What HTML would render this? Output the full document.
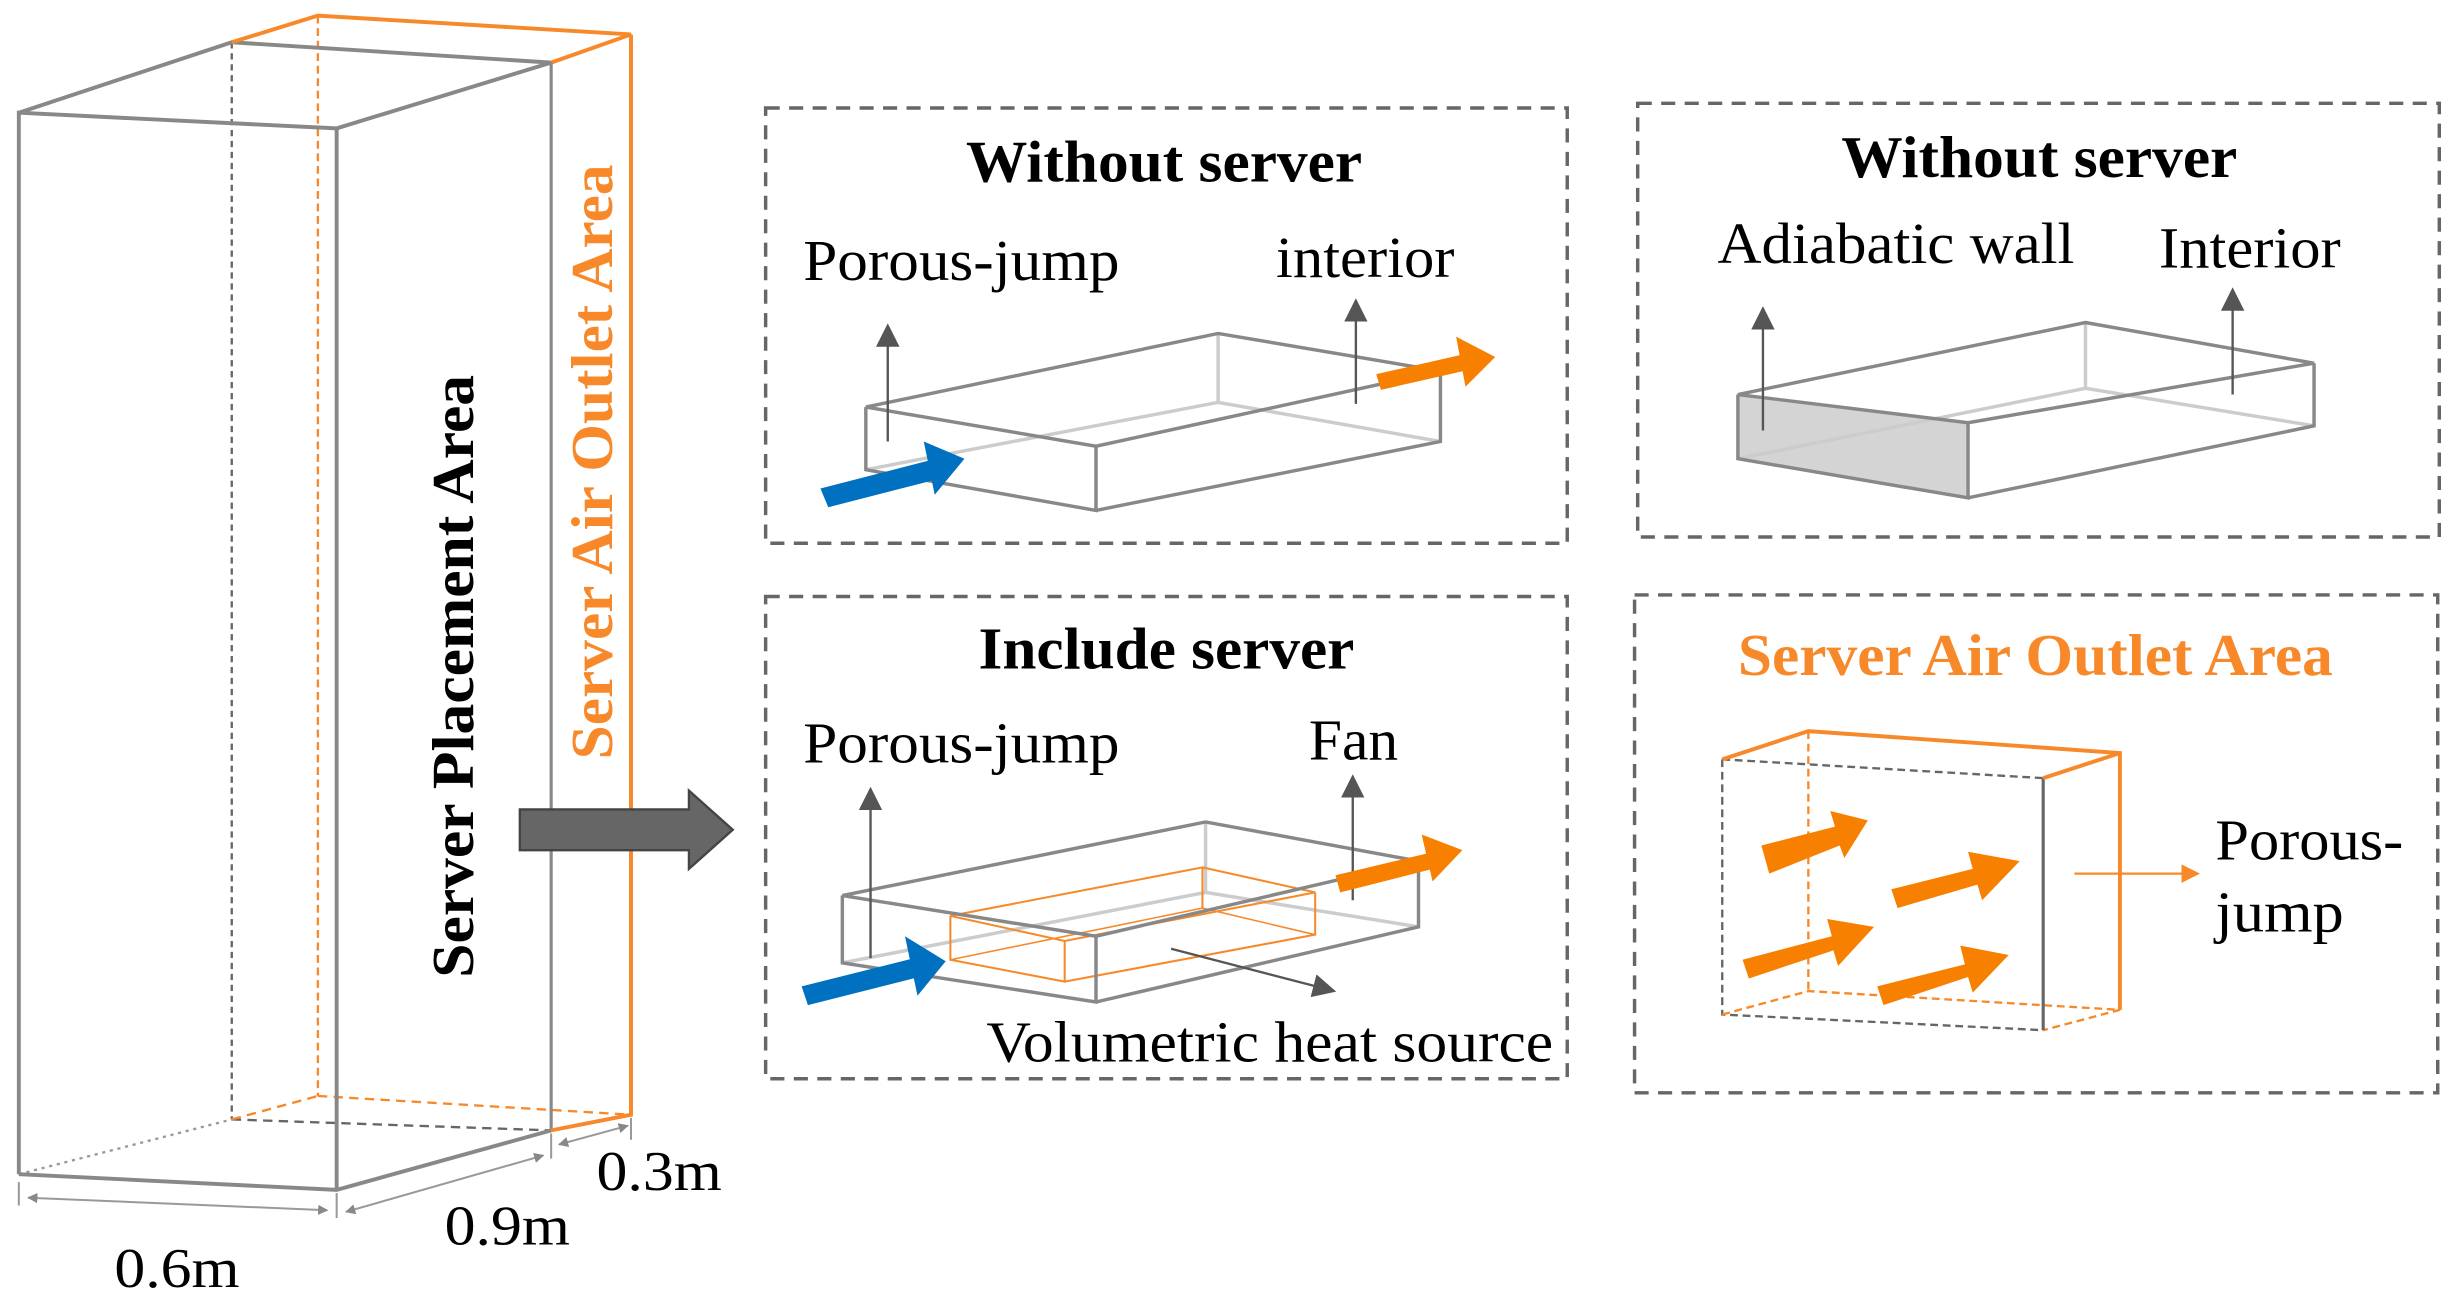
<!DOCTYPE html>
<html><head><meta charset="utf-8"><style>
html,body{margin:0;padding:0;background:#fff;}
svg{display:block;}
text{font-family:"Liberation Serif",serif;}
</style></head><body>
<svg width="2455" height="1312" viewBox="0 0 1568 838" xmlns="http://www.w3.org/2000/svg">
<defs>
<marker id="ga" viewBox="0 0 10 10" refX="9" refY="5" markerWidth="5" markerHeight="5" orient="auto-start-reverse"><path d="M0,0 L10,5 L0,10 z" fill="#888"/></marker>
<marker id="da" viewBox="0 0 10 10" refX="9" refY="5" markerWidth="10" markerHeight="10" orient="auto"><path d="M0,0 L10,5 L0,10 z" fill="#555"/></marker>
<marker id="oa" viewBox="0 0 10 10" refX="9" refY="5" markerWidth="8" markerHeight="8" orient="auto"><path d="M0,0 L10,5 L0,10 z" fill="#f7892a"/></marker>
</defs>
<g fill="none" stroke-width="2.5">
<line x1="148" y1="27" x2="148" y2="715" stroke="#666" stroke-dasharray="4,3" stroke-width="1.5"/>
<line x1="203" y1="10" x2="203" y2="700" stroke="#f7892a" stroke-dasharray="5,3" stroke-width="1.5"/>
<line x1="12" y1="750" x2="148" y2="715" stroke="#999" stroke-dasharray="2,3" stroke-width="1.5"/>
<line x1="148" y1="715" x2="352" y2="722" stroke="#666" stroke-dasharray="6,4" stroke-width="1.5"/>
<line x1="148" y1="715" x2="203" y2="700" stroke="#f7892a" stroke-dasharray="6,4" stroke-width="1.5"/>
<line x1="203" y1="700" x2="403" y2="712" stroke="#f7892a" stroke-dasharray="6,4" stroke-width="1.5"/>
<polyline points="12,72 148,27 352,40" stroke="#888"/>
<polyline points="148,27 203,10 403,22 352,40" stroke="#f7892a"/>
<polyline points="12,750 12,72 215,82 352,40" stroke="#888"/>
<line x1="352" y1="40" x2="352" y2="722" stroke="#888" stroke-width="2"/>
<line x1="215" y1="82" x2="215" y2="760" stroke="#888"/>
<polyline points="12,750 215,760 352,722" stroke="#888"/>
<polyline points="352,722 403,712 403,22" stroke="#f7892a"/>
</g>
<g stroke="#999" stroke-width="1.3" fill="none">
<line x1="12" y1="755" x2="12" y2="770"/><line x1="215" y1="762" x2="215" y2="778"/><line x1="352" y1="724" x2="352" y2="740"/><line x1="403" y1="714" x2="403" y2="728"/>
<line x1="18" y1="765" x2="209" y2="773" marker-start="url(#ga)" marker-end="url(#ga)"/>
<line x1="221" y1="774" x2="347" y2="738" marker-start="url(#ga)" marker-end="url(#ga)"/>
<line x1="357" y1="731" x2="401" y2="719" marker-start="url(#ga)" marker-end="url(#ga)"/>
</g>
<g font-size="36" lengthAdjust="spacingAndGlyphs">
<text x="73" y="822" textLength="80" lengthAdjust="spacingAndGlyphs">0.6m</text>
<text x="284" y="795" textLength="80" lengthAdjust="spacingAndGlyphs">0.9m</text>
<text x="381" y="760" textLength="80" lengthAdjust="spacingAndGlyphs">0.3m</text>
</g>
<text transform="translate(302,432) rotate(-90)" text-anchor="middle" font-size="38" font-weight="bold" textLength="385" lengthAdjust="spacingAndGlyphs">Server Placement Area</text>
<text transform="translate(391,295) rotate(-90)" text-anchor="middle" font-size="38" font-weight="bold" fill="#f7892a" textLength="380" lengthAdjust="spacingAndGlyphs">Server Air Outlet Area</text>
<polygon points="332,517 440,517 440,505 468,530 440,555 440,543 332,543" fill="#666" stroke="#444" stroke-width="1.5"/>
<g fill="none" stroke="#666" stroke-width="2.2" stroke-dasharray="9,6">
<rect x="489" y="69" width="512" height="278"/>
<rect x="1046" y="66" width="512" height="277"/>
<rect x="489" y="381" width="512" height="308"/>
<rect x="1044" y="380" width="513" height="318"/>
</g>
<g font-size="38" font-weight="bold">
<text x="617" y="116" textLength="253" lengthAdjust="spacingAndGlyphs">Without server</text>
<text x="1176" y="113" textLength="253" lengthAdjust="spacingAndGlyphs">Without server</text>
<text x="625" y="427" textLength="240" lengthAdjust="spacingAndGlyphs">Include server</text>
<text x="1110" y="431" fill="#f7892a" textLength="380" lengthAdjust="spacingAndGlyphs">Server Air Outlet Area</text>
</g>
<g font-size="37">
<text x="513" y="179" textLength="202" lengthAdjust="spacingAndGlyphs">Porous-jump</text>
<text x="815" y="177" textLength="114" lengthAdjust="spacingAndGlyphs">interior</text>
<text x="1097" y="168" textLength="228" lengthAdjust="spacingAndGlyphs">Adiabatic wall</text>
<text x="1379" y="171" textLength="116" lengthAdjust="spacingAndGlyphs">Interior</text>
<text x="513" y="487" textLength="202" lengthAdjust="spacingAndGlyphs">Porous-jump</text>
<text x="836" y="485" textLength="57" lengthAdjust="spacingAndGlyphs">Fan</text>
<text x="630" y="678" textLength="362" lengthAdjust="spacingAndGlyphs">Volumetric heat source</text>
<text x="1415" y="549" textLength="120" lengthAdjust="spacingAndGlyphs">Porous-</text>
<text x="1415" y="595" textLength="82" lengthAdjust="spacingAndGlyphs">jump</text>
</g>
<g fill="none" stroke-width="2.2">
<polyline points="553,300 778,257 920,282" stroke="#ccc"/>
<line x1="778" y1="213" x2="778" y2="257" stroke="#ccc"/>
<polygon points="553,260 778,213 920,237 700,285" stroke="#888"/>
<polyline points="553,260 553,300 700,326 700,285" stroke="#888"/>
<polyline points="700,326 920,282 920,237" stroke="#888"/>
</g>
<line x1="567" y1="282" x2="567" y2="208" stroke="#555" stroke-width="1.5" marker-end="url(#da)"/>
<line x1="866" y1="258" x2="866" y2="192" stroke="#555" stroke-width="1.5" marker-end="url(#da)"/>
<polygon points="590,282 616,293 597,316" fill="#0070c0"/>
<polygon points="524,312 594,294 599,306 529,324" fill="#0070c0"/>
<polygon points="879,239 936,226 939,236 882,249" fill="#f78000"/>
<polygon points="930,215 955,228 936,247" fill="#f78000"/>
<polygon points="1110,252 1257,270 1257,318 1110,293" fill="#d4d4d4"/>
<g fill="none" stroke-width="2.2">
<polyline points="1110,293 1332,248 1478,272" stroke="#ccc"/>
<line x1="1332" y1="206" x2="1332" y2="248" stroke="#ccc"/>
<polygon points="1110,252 1332,206 1478,232 1257,270" stroke="#888"/>
<polyline points="1110,252 1110,293 1257,318 1257,270" stroke="#888"/>
<polyline points="1257,318 1478,272 1478,232" stroke="#888"/>
</g>
<line x1="1126" y1="275" x2="1126" y2="197" stroke="#555" stroke-width="1.5" marker-end="url(#da)"/>
<line x1="1426" y1="252" x2="1426" y2="185" stroke="#555" stroke-width="1.5" marker-end="url(#da)"/>
<g fill="none" stroke-width="2.2">
<polyline points="538,615 770,570 906,592" stroke="#ccc"/>
<line x1="770" y1="525" x2="770" y2="570" stroke="#ccc"/>
</g>
<g fill="none" stroke="#f7892a" stroke-width="1.3">
<polygon points="607,585 768,554 840,570 680,601"/>
<polyline points="607,585 607,613 680,627 680,601"/>
<polyline points="680,627 840,597 840,570"/>
<line x1="768" y1="554" x2="768" y2="580"/>
<polyline points="607,613 768,580 840,597" stroke-width="1"/>
</g>
<g fill="none" stroke-width="2.2">
<polygon points="538,572 770,525 906,550 700,598" stroke="#888"/>
<polyline points="538,572 538,615 700,640 700,598" stroke="#888"/>
<polyline points="700,640 906,592 906,550" stroke="#888"/>
</g>
<line x1="556" y1="612" x2="556" y2="504" stroke="#555" stroke-width="1.5" marker-end="url(#da)"/>
<line x1="864" y1="575" x2="864" y2="496" stroke="#555" stroke-width="1.5" marker-end="url(#da)"/>
<line x1="748" y1="606" x2="852" y2="633" stroke="#555" stroke-width="1.5" marker-end="url(#da)"/>
<polygon points="512,630 584,612 587,624 516,642" fill="#0070c0"/>
<polygon points="578,598 604,614 586,636" fill="#0070c0"/>
<polygon points="853,559 912,545 915,555 856,570" fill="#f78000"/>
<polygon points="908,533 934,543 915,563" fill="#f78000"/>
<g fill="none" stroke-width="1.5">
<polyline points="1100,485 1100,648 1305,658" stroke="#666" stroke-dasharray="5,3"/>
<line x1="1100" y1="485" x2="1305" y2="497" stroke="#666" stroke-dasharray="5,3"/>
<line x1="1155" y1="467" x2="1155" y2="633" stroke="#f7892a" stroke-dasharray="5,3"/>
<polyline points="1100,648 1155,633 1354,645 1305,658" stroke="#f7892a" stroke-dasharray="5,3"/>
<line x1="1305" y1="497" x2="1305" y2="658" stroke="#666" stroke-width="2"/>
<polyline points="1100,485 1155,467 1354,481 1354,645" stroke="#f7892a" stroke-width="2.5"/>
<line x1="1305" y1="497" x2="1354" y2="481" stroke="#f7892a" stroke-width="2.5"/>
</g>
<g fill="#f78000">
<polygon points="1125,540 1172,528 1169,518 1193,524 1178,548 1175,540 1130,558"/>
<polygon points="1208,568 1260,555 1257,544 1290,550 1266,575 1263,565 1212,580"/>
<polygon points="1113,613 1170,598 1167,587 1197,592 1174,617 1171,607 1117,625"/>
<polygon points="1199,630 1255,616 1252,604 1283,610 1260,634 1257,624 1203,642"/>
</g>
<line x1="1325" y1="558" x2="1404" y2="558" stroke="#f7892a" stroke-width="1.5" marker-end="url(#oa)"/>
</svg>
</body></html>
